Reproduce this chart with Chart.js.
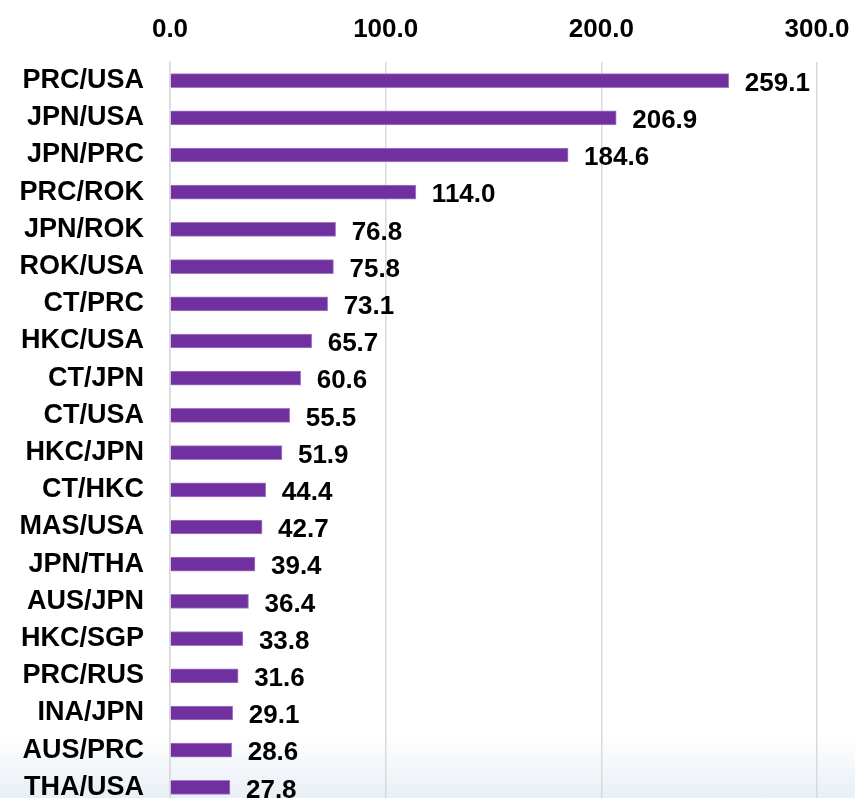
<!DOCTYPE html>
<html>
<head>
<meta charset="utf-8">
<script src="https://cdn.jsdelivr.net/npm/chart.js@4.4.1/dist/chart.umd.min.js"></script>
<style>
  html, body { margin: 0; padding: 0; width: 855px; height: 798px; overflow: hidden;
    background: linear-gradient(to bottom, #ffffff 0px, #ffffff 735px, #e8eff6 798px); }
  #c { position: absolute; left: 0; top: 0; }
</style>
</head>
<body>
<canvas id="c" width="855" height="806"></canvas>
<script>
const categories = ["PRC/USA","JPN/USA","JPN/PRC","PRC/ROK","JPN/ROK","ROK/USA","CT/PRC","HKC/USA","CT/JPN","CT/USA","HKC/JPN","CT/HKC","MAS/USA","JPN/THA","AUS/JPN","HKC/SGP","PRC/RUS","INA/JPN","AUS/PRC","THA/USA"];
const values = [259.1,206.9,184.6,114.0,76.8,75.8,73.1,65.7,60.6,55.5,51.9,44.4,42.7,39.4,36.4,33.8,31.6,29.1,28.6,27.8];
const xTicks = [0,100,200,300];

const FONT = "'Liberation Sans', Arial, sans-serif";

const labelPlugin = {
  id: 'valueLabels',
  afterDatasetsDraw(chart) {
    const ctx = chart.ctx;
    const meta = chart.getDatasetMeta(0);
    ctx.save();
    ctx.font = "bold 26px " + FONT;
    ctx.fillStyle = "#000";
    ctx.textAlign = "left";
    ctx.textBaseline = "middle";
    meta.data.forEach((bar, i) => {
      ctx.fillText(values[i].toFixed(1), bar.x + 16, bar.y + 3);
    });
    ctx.restore();
  }
};

new Chart(document.getElementById('c'), {
  type: 'bar',
  data: {
    labels: categories,
    datasets: [{
      data: values,
      backgroundColor: '#7030a0',
      borderColor: '#a57cc6',
      borderWidth: 1,
      barThickness: 14
    }]
  },
  plugins: [labelPlugin],
  options: {
    indexAxis: 'y',
    responsive: false,
    animation: false,
    layout: { padding: { left: 0, right: 38, top: 0, bottom: 0 } },
    plugins: { legend: { display: false }, tooltip: { enabled: false } },
    scales: {
      x: {
        position: 'top',
        min: 0, max: 300,
        afterBuildTicks(scale) { scale.ticks = xTicks.map(v => ({ value: v })); },
        afterFit(scale) { scale.height = 62; scale.paddingLeft = 0; scale.paddingRight = 0; },
        ticks: {
          color: '#000',
          font: { family: FONT, size: 26, weight: 'bold' },
          padding: 17,
          maxRotation: 0,
          callback: v => Number(v).toFixed(1)
        },
        grid: { color: '#d9d9d9', lineWidth: 1.5, drawTicks: false },
        border: { display: false }
      },
      y: {
        afterFit(scale) { scale.width = 170; scale.paddingTop = 0; scale.paddingBottom = 0; },
        ticks: {
          color: '#000',
          font: { family: FONT, size: 27, weight: 'bold' },
          padding: 18
        },
        grid: { display: false },
        border: { display: true, color: '#d9d9d9', width: 1.5 }
      }
    }
  }
});
</script>
</body>
</html>
